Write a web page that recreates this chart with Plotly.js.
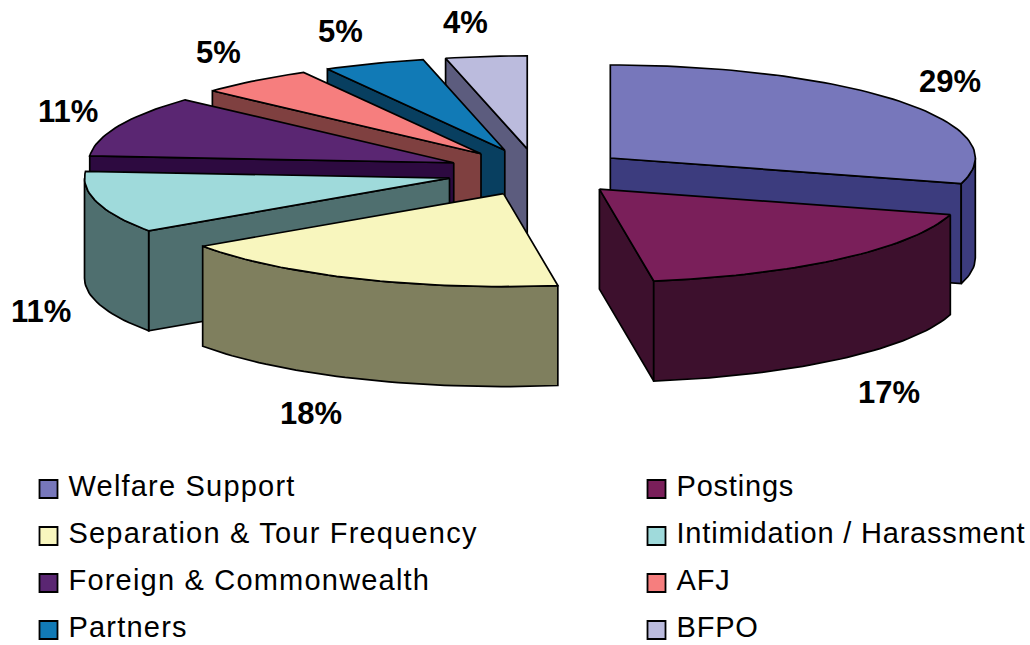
<!DOCTYPE html>
<html>
<head>
<meta charset="utf-8">
<script src="https://cdn.plot.ly/plotly-3.0.1.min.js"></script>
<style>
  html, body { margin: 0; padding: 0; background: #fff; }
  #chart { width: 1030px; height: 645px; }
  /* The two legend columns are the last two traces in the layer. */
  .scatterlayer .trace:nth-last-child(2) .textpoint text { letter-spacing: 1.2px; }
  .scatterlayer .trace:last-child .textpoint text { letter-spacing: 0.8px; }
</style>
</head>
<body>
<div id="chart"></div>
<script>
// Shares of enquiries by subject, percent, clockwise from twelve o'clock.
const categories = ['Welfare Support', 'Postings', 'Separation & Tour Frequency',
  'Intimidation / Harassment', 'Foreign & Commonwealth', 'AFJ', 'Partners', 'BFPO'];
const shares = [29.49, 17.49, 18.49, 10.9, 10.7, 5.1, 4.5, 3.6];
const topColors = ['#7777BB', '#7A1F5A', '#F8F6BE', '#9FDADB', '#5A2672', '#F67E7E', '#117AB6', '#BBBBDD'];
const sideColors = ['#3C3C7E', '#3D102D', '#7F7F5E', '#4F6F6F', '#2D0A40', '#7F4040', '#083F60', '#5C5C7E'];

// Pie geometry in plot units.
const centre = { x: 537.5, y: 172 };
const radiusX = 365, radiusY = 93, depth = 100, explode = 0.25;
// Slices are painted far to near so that nearer ones overlap the rest.
const paintOrder = [7, 6, 5, 4, 3, 0, 1, 2];
// Legend rows and data-label anchors.
const legendColumns = [48.5, 656.5];
const legendTextGap = 20;
const legendRows = [489, 536, 583, 630];
const labelAnchors = [[950, 81], [889, 392], [311, 413], [41, 311], [68, 111], [218, 52], [340, 31], [465, 22]];

const toRad = d => d * Math.PI / 180;
const total = shares.reduce((a, b) => a + b, 0);

// Small foreshortening of the angle around the nearest part of the tilted disc.
const projectAngle = a => a + 3 * Math.exp(-Math.pow((a - 180) / 40, 2));

const rimPoint = (origin, angle, drop) => ({
  x: origin.x + radiusX * Math.sin(toRad(angle)),
  y: origin.y - radiusY * Math.cos(toRad(angle)) + drop
});

function arc(origin, from, to, drop) {
  const steps = Math.max(2, Math.ceil(Math.abs(to - from) / 1.5));
  const pts = [];
  for (let i = 0; i <= steps; i++) pts.push(rimPoint(origin, from + (to - from) * i / steps, drop));
  return pts;
}

function polygon(points, color, name) {
  const closed = points.concat([points[0]]);
  return {
    type: 'scatter', mode: 'lines', fill: 'toself', fillcolor: color,
    x: closed.map(p => p.x), y: closed.map(p => p.y),
    line: { color: '#000', width: 1.7, shape: 'linear' },
    name: name, hoverinfo: 'name', showlegend: false
  };
}

// Start and end angle of every slice.
let running = 0;
const slices = shares.map((v, i) => {
  const start = running / total * 360;
  running += v;
  const end = running / total * 360;
  const mid = (start + end) / 2;
  const origin = {
    x: centre.x + explode * radiusX * Math.sin(toRad(mid)),
    y: centre.y - explode * radiusY * Math.cos(toRad(mid))
  };
  return { i, start: projectAngle(start), end: projectAngle(end), origin };
});

const traces = [];
paintOrder.forEach(k => {
  const s = slices[k], name = categories[k], side = sideColors[k], o = s.origin;
  const wall = a => {
    const p = rimPoint(o, a, 0);
    return polygon([{ x: o.x, y: o.y }, p, { x: p.x, y: p.y + depth }, { x: o.x, y: o.y + depth }], side, name);
  };
  // Radial walls turned toward the viewer.
  if (s.start > 180 && s.start < 360) traces.push(wall(s.start));
  if (s.end > 0 && s.end < 180) traces.push(wall(s.end));
  // Curved outer wall, only along the near half of the rim.
  const a0 = Math.max(s.start, 90), a1 = Math.min(s.end, 270);
  if (a1 > a0) {
    traces.push(polygon(arc(o, a0, a1, 0).concat(arc(o, a1, a0, depth)), side, name));
  }
  // Top face.
  traces.push(polygon([{ x: o.x, y: o.y }].concat(arc(o, s.start, s.end, 0)), topColors[k], name));
});

// Legend: two columns, filled across each row.
const legendX = categories.map((_, i) => legendColumns[i % 2]);
const legendY = categories.map((_, i) => legendRows[Math.floor(i / 2)]);
traces.push({
  type: 'scatter', mode: 'markers', x: legendX, y: legendY,
  marker: { symbol: 'square', size: 18, color: topColors, line: { color: '#000', width: 1.8 } },
  text: categories, hoverinfo: 'text', showlegend: false
});
[0, 1].forEach(col => {
  const rows = categories.map((_, i) => i).filter(i => i % 2 === col);
  traces.push({
    type: 'scatter', mode: 'text',
    x: rows.map(i => legendX[i] + legendTextGap), y: rows.map(i => legendY[i]),
    text: rows.map(i => categories[i]), textposition: 'middle right',
    textfont: { family: 'Liberation Sans, Arial, sans-serif', size: 29, color: '#000' },
    hoverinfo: 'skip', showlegend: false, cliponaxis: false
  });
});

const labels = shares.map((v, i) => ({
  x: labelAnchors[i][0], y: labelAnchors[i][1], xref: 'x', yref: 'y',
  text: Math.round(v) + '%', showarrow: false, xanchor: 'center', yanchor: 'middle',
  font: { family: 'Liberation Sans, Arial, sans-serif', size: 31, color: '#000', weight: 700 }
}));

const layout = {
  width: 1030, height: 645,
  margin: { l: 0, r: 0, t: 0, b: 0 },
  paper_bgcolor: '#fff', plot_bgcolor: '#fff',
  showlegend: false,
  xaxis: { range: [0, 1030], visible: false, fixedrange: true },
  yaxis: { range: [645, 0], visible: false, fixedrange: true },
  annotations: labels
};

Plotly.newPlot('chart', traces, layout, { displayModeBar: false });
</script>
</body>
</html>
